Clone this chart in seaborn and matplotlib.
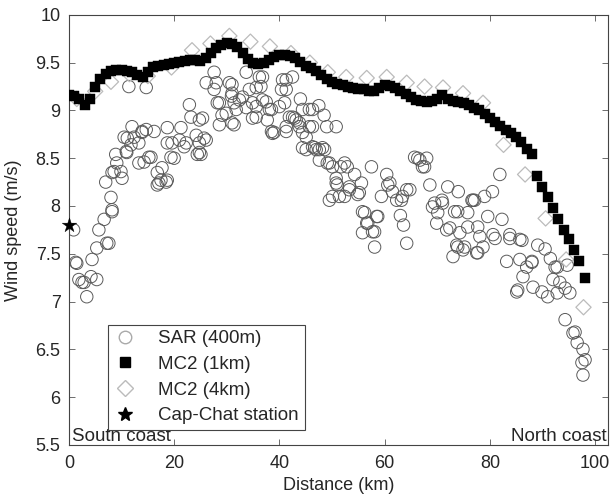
import numpy as np
import pandas as pd
import seaborn as sns
import matplotlib.pyplot as plt
from matplotlib.lines import Line2D
from matplotlib.ticker import FuncFormatter

# MC2 (1km) along the transect, one value per km
mc2_1km_x = list(range(0, 99))
mc2_1km_y = [
    9.16, 9.15, 9.12, 9.06, 9.12, 9.25, 9.33, 9.38, 9.41, 9.42,
    9.42, 9.41, 9.40, 9.37, 9.35, 9.40, 9.45, 9.47, 9.48, 9.49,
    9.50, 9.51, 9.52, 9.53, 9.53, 9.52, 9.55, 9.60, 9.65, 9.69,
    9.71, 9.70, 9.66, 9.60, 9.54, 9.50, 9.49, 9.50, 9.53, 9.56,
    9.58, 9.58, 9.57, 9.55, 9.51, 9.47, 9.44, 9.41, 9.37, 9.33,
    9.30, 9.28, 9.27, 9.25, 9.23, 9.22, 9.22, 9.20, 9.20, 9.24,
    9.27, 9.26, 9.23, 9.20, 9.17, 9.14, 9.11, 9.10, 9.09, 9.10,
    9.12, 9.16, 9.12, 9.10, 9.09, 9.08, 9.06, 9.03, 9.00, 8.96,
    8.92, 8.88, 8.84, 8.80, 8.76, 8.72, 8.67, 8.60, 8.54, 8.31,
    8.20, 8.09, 7.98, 7.86, 7.75, 7.65, 7.54, 7.42, 7.25,
]

# MC2 (4km)
mc2_4km_x = [1.5, 5.0, 8.0, 11.5, 15.0, 19.5, 23.4, 26.9, 30.5, 34.5,
             38.2, 42.2, 45.8, 49.2, 52.7, 56.6, 60.4, 64.2, 67.6, 71.1,
             74.9, 78.7, 82.6, 86.7, 90.6, 94.5, 97.8]
mc2_4km_y = [9.12, 9.20, 9.30, 9.38, 9.36, 9.45, 9.63, 9.70, 9.78, 9.72,
             9.67, 9.60, 9.50, 9.40, 9.35, 9.34, 9.35, 9.29, 9.25, 9.24,
             9.18, 9.08, 8.64, 8.33, 7.87, 7.44, 6.94]

# SAR (400m)
sar_x = [
    0.9, 1.3, 1.9, 2.9, 3.4, 4.2, 5.3, 4.4, 5.3, 7.2, 5.7, 6.7, 8.2, 8.0, 7.0,
    8.2, 9.9, 9.1, 8.9, 10.1, 11.0, 11.8, 10.5, 12.0, 13.3, 13.9, 14.7, 12.4,
    13.3, 15.6, 16.2, 14.3, 16.8, 17.1, 17.7, 18.5, 18.7, 19.6, 19.4, 21.0,
    21.3, 21.9, 22.9, 23.2, 24.2, 24.4, 24.8, 11.4, 14.7, 1.5, 2.5, 7.6,
    25.4, 24.8, 28.0, 27.6, 28.6, 31.0, 31.0, 28.6, 29.9, 32.4, 33.7, 34.3,
    34.9, 36.2, 36.5, 36.8, 35.6, 38.7, 38.5, 40.0, 40.6, 41.3, 42.5, 42.5,
    41.3, 43.8, 44.4, 45.7, 46.3, 47.6, 49.0, 49.5, 49.5,
    26.1, 27.6, 30.5, 30.9, 31.8, 35.6, 38.1, 37.7, 39.0, 41.9, 43.2, 45.1,
    46.3, 46.3, 44.4, 46.7, 48.2, 47.6, 49.1, 50.1, 50.8, 25.7, 25.1,
    44.0, 47.5, 48.5,
    50.8, 51.7, 51.0, 52.9, 54.3, 55.6, 53.3, 51.4, 54.9, 57.5, 56.2, 56.8,
    58.1, 58.1, 58.7, 59.4, 60.4, 60.6, 61.5, 62.3, 63.4, 64.8, 64.2, 65.7,
    66.7, 67.2, 68.0, 68.6, 69.5, 70.9, 70.1, 72.0, 72.4, 73.3, 74.3, 73.7,
    74.9, 73.0, 75.8, 76.6, 63.0, 63.6, 74.0, 79.0, 80.5,
    81.9, 76.8, 79.6, 82.3, 77.7, 78.1, 80.6, 83.8, 85.7, 77.5, 78.7, 89.1,
    83.2, 85.7, 87.0, 88.0, 86.3, 85.3, 88.2, 89.9, 91.0, 92.0, 93.3, 92.8,
    94.3, 95.2, 94.3, 95.8, 96.6, 97.7, 98.1, 97.7, 97.5, 96.2, 92.8, 85.1,
    90.5, 91.5, 94.7,
    # denser parts of the cloud
    13.9, 11.1, 18.7, 22.3, 24.8, 26.1, 20.0, 15.2, 10.9, 8.6, 17.5, 16.8,
    18.7, 8.2, 36.8, 41.3, 31.0, 35.6, 40.4, 33.0, 28.2, 31.4, 37.5, 41.0,
    33.7, 44.4, 29.1, 34.9, 42.9, 31.4, 38.5, 41.3, 43.8, 45.7, 45.1, 47.0,
    48.6, 50.8, 52.4, 53.3, 55.2, 50.1, 52.4, 61.0, 64.2, 63.2, 66.3, 67.6,
    69.1, 71.0, 55.8, 58.5, 56.6, 55.8, 57.7, 69.9, 71.8, 73.9, 77.1, 73.9,
    75.8, 81.0, 83.8, 86.1, 75.2, 77.7, 88.0, 92.4,
]
sar_y = [
    7.75, 7.41, 7.23, 7.20, 7.05, 7.26, 7.23, 7.44, 7.56, 7.61, 7.75, 7.86,
    7.94, 8.09, 8.25, 8.35, 8.36, 8.45, 8.54, 8.29, 8.56, 8.64, 8.72, 8.83,
    8.66, 8.77, 8.80, 8.72, 8.45, 8.51, 8.78, 8.46, 8.35, 8.24, 8.40, 8.25,
    8.82, 8.66, 8.51, 8.69, 8.82, 8.62, 9.06, 8.93, 8.74, 8.54, 8.90, 9.25,
    9.24, 7.40, 7.20, 7.61,
    8.92, 8.56, 9.29, 9.40, 9.08, 9.18, 8.87, 8.85, 8.97, 9.11, 9.40, 9.22,
    9.08, 9.35, 9.25, 9.11, 8.93, 8.76, 9.01, 9.04, 9.32, 9.22, 9.35, 8.93,
    8.83, 8.87, 8.77, 9.01, 8.62, 8.59, 8.83, 8.45, 8.06,
    9.29, 9.22, 9.29, 9.15, 9.01, 9.04, 9.01, 8.90, 8.77, 8.93, 8.90, 8.72,
    9.01, 8.83, 8.61, 8.61, 8.61, 8.48, 8.45, 8.41, 8.24, 8.71, 8.54,
    9.12, 9.05, 8.95,
    8.83, 8.41, 8.22, 8.41, 8.33, 8.24, 8.17, 8.10, 8.12, 8.41, 7.93, 7.82,
    7.73, 7.57, 7.89, 8.10, 8.33, 8.22, 8.15, 8.06, 8.10, 8.17, 7.61, 8.51,
    8.48, 8.41, 8.50, 8.22, 8.03, 8.06, 7.93, 8.20, 7.77, 7.94, 7.72, 7.59,
    7.54, 7.47, 7.93, 8.06, 7.90, 7.80, 8.15, 8.10, 8.15,
    8.33, 8.06, 7.89, 7.86, 7.78, 7.68, 7.70, 7.70, 7.65, 7.51, 7.57, 7.59,
    7.42, 7.44, 7.36, 7.42, 7.26, 7.12, 7.15, 7.10, 7.05, 7.23, 7.20, 7.36,
    7.14, 7.09, 6.81, 6.67, 6.57, 6.50, 6.39, 6.23, 6.36, 6.68, 7.09, 7.10,
    7.55, 7.45, 7.38,
    8.78, 8.71, 8.66, 8.66, 8.66, 8.69, 8.50, 8.51, 8.57, 8.36, 8.27, 8.22,
    8.27, 7.96, 9.35, 9.32, 9.27, 9.24, 9.22, 9.14, 9.08, 9.08, 9.09, 9.08,
    9.03, 9.01, 8.95, 8.92, 8.92, 8.85, 8.78, 8.78, 8.83, 8.83, 8.59, 8.59,
    8.59, 8.29, 8.45, 8.20, 8.14, 8.10, 8.10, 8.24, 8.17, 8.06, 8.50, 8.41,
    7.99, 8.03, 7.94, 7.89, 7.82, 7.72, 7.73, 7.82, 7.75, 7.57, 8.06, 7.94,
    7.78, 7.66, 7.66, 7.64, 7.57, 7.51, 7.41, 7.36,
]

# Cap-Chat station
station_x = [0.0]
station_y = [7.8]

sar = pd.DataFrame({'distance': sar_x, 'speed': sar_y})
mc2_1km = pd.DataFrame({'distance': mc2_1km_x, 'speed': mc2_1km_y})
mc2_4km = pd.DataFrame({'distance': mc2_4km_x, 'speed': mc2_4km_y})
station = pd.DataFrame({'distance': station_x, 'speed': station_y})

sns.set_theme(style='ticks')
plt.rcParams['font.family'] = ['Liberation Sans', 'DejaVu Sans']

fig = plt.figure(figsize=(6.15, 4.97), dpi=100)
ax = fig.add_axes([0.112, 0.105, 0.877, 0.865])

sns.scatterplot(data=sar, x='distance', y='speed', ax=ax, marker='o',
                s=80, facecolors='none', edgecolor='#5a5a5a', linewidth=0.7,
                zorder=2)
sns.scatterplot(data=mc2_4km, x='distance', y='speed', ax=ax, marker='D',
                s=60, facecolors='none', edgecolor='#bbbbbb', linewidth=0.9,
                zorder=3)
sns.scatterplot(data=mc2_1km, x='distance', y='speed', ax=ax, marker='s',
                s=52, color='black', edgecolor='black', linewidth=0.3,
                zorder=4)
sns.scatterplot(data=station, x='distance', y='speed', ax=ax, marker='*',
                s=120, color='black', edgecolor='black', linewidth=0.3,
                zorder=5, clip_on=False)

ax.set_xlim(0, 102.5)
ax.set_ylim(5.5, 10)
ax.set_xticks([0, 20, 40, 60, 80, 100])
ax.set_yticks(np.arange(5.5, 10.01, 0.5))
ax.yaxis.set_major_formatter(FuncFormatter(lambda v, p: f"{v:g}"))
ax.tick_params(direction='in', top=True, right=True, length=4,
               width=0.6, color='#555555', labelsize=13)
ax.tick_params(axis='x', pad=7)
ax.tick_params(axis='y', pad=6)
for side in ax.spines.values():
    side.set_linewidth(0.8)
    side.set_color('#444444')

ax.set_xlabel('Distance (km)', fontsize=13, labelpad=4)
ax.set_ylabel('Wind speed (m/s)', fontsize=13, labelpad=10)

ax.text(0.005, 0.0, 'South coast', transform=ax.transAxes,
        ha='left', va='bottom', fontsize=13.5)
ax.text(0.997, 0.0, 'North coast', transform=ax.transAxes,
        ha='right', va='bottom', fontsize=13.5)

handles = [
    Line2D([], [], linestyle='', marker='o', markersize=9,
           markerfacecolor='none', markeredgecolor='#aaaaaa'),
    Line2D([], [], linestyle='', marker='s', markersize=7,
           color='black'),
    Line2D([], [], linestyle='', marker='D', markersize=8,
           markerfacecolor='none', markeredgecolor='#bbbbbb'),
    Line2D([], [], linestyle='', marker='*', markersize=10,
           color='black'),
]
labels = ['SAR (400m)', 'MC2 (1km)', 'MC2 (4km)', 'Cap-Chat station']
leg = ax.legend(handles, labels, loc='lower left',
                bbox_to_anchor=(0.072, 0.035), fontsize=13.5,
                frameon=True, fancybox=False, framealpha=1,
                edgecolor='#444444', borderpad=0.3, labelspacing=0.45,
                handlelength=1.2, handletextpad=1.2, borderaxespad=0)
leg.get_frame().set_linewidth(0.8)

plt.savefig('out.png', dpi=100)
plt.close()
